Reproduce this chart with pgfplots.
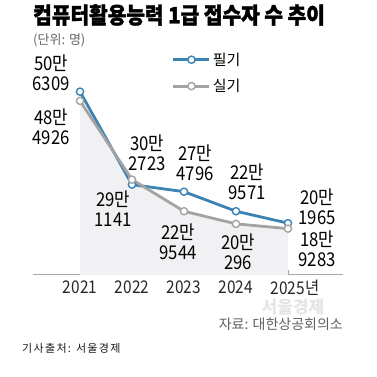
\documentclass[border=0pt]{standalone}
\usepackage{fontspec}
\usepackage{pgfplots}
\pgfplotsset{compat=1.18}
\setmainfont{Noto Sans CJK KR}
\newfontfamily\kr{Noto Sans CJK KR}
\newfontfamily\krn[FakeStretch=0.88]{Noto Sans CJK KR}
\newfontfamily\krt[FakeStretch=0.9, FakeBold=1.6]{Noto Sans CJK KR}
\definecolor{pblue}{HTML}{3B82B5}
\definecolor{pgray}{HTML}{A3A3A3}
\definecolor{pfill}{HTML}{F1F1F3}
\definecolor{axgray}{HTML}{A8A8A8}
\newcommand\labfont{\krn\fontsize{19}{21}\selectfont}
\newcommand\lab[4]{%
  \node[font=\labfont, inner sep=0pt] at (#1,{377-#2}) {#3};
  \node[font=\labfont, inner sep=0pt] at (#1,{377-#2-21}) {#4};}
\begin{document}
\begin{tikzpicture}[x=1pt,y=1pt]
\path[use as bounding box, fill=white] (0,0) rectangle (377,377);
\begin{axis}[
  at={(33pt,102pt)}, anchor=south west,
  scale only axis, width=310pt, height=235pt,
  xmin=2020.096, xmax=2026.058, ymin=82000, ymax=625800,
  axis x line=bottom, axis y line=none,
  x axis line style={draw=axgray, line width=1pt, -},
  xtick={2021,2022,2023,2024,2025},
  xticklabels={2021,2022,2023,2024,2025\rlap{년}},
  tick align=inside, major tick length=5pt,
  tick style={draw=axgray, line width=0.8pt},
  xticklabel style={font=\krn\fontsize{17.5}{18}\selectfont, text=black!85, yshift=-2pt},
  ytick=\empty,
  legend style={at={(0.448,0.955)}, anchor=north west, draw=none, fill=none,
    font=\kr\fontsize{15}{16}\selectfont, row sep=8.5pt, inner sep=0pt,
    cells={anchor=west}},
  legend image code/.code={
    \draw[#1, mark=none] (0pt,0pt) -- (36pt,0pt);
    \draw[#1, only marks] plot coordinates {(18pt,0pt)};
  },
]
\addplot[fill=pfill, draw=none, forget plot] coordinates {
  (2021,82000) (2021,484926) (2022,302723) (2023,229544) (2024,200296) (2025,189283) (2025,82000)} -- cycle;
\addplot[color=pblue, line width=2.8pt, mark=*, mark size=3.6pt,
  mark options={fill=white, draw=pblue, line width=1.4pt}]
  coordinates {(2021,506309) (2022,291141) (2023,274796) (2024,229571) (2025,201965)};
\addlegendentry{필기}
\addplot[color=pgray, line width=2.8pt, mark=*, mark size=3.6pt,
  mark options={fill=white, draw=pgray, line width=1.4pt}]
  coordinates {(2021,484926) (2022,302723) (2023,229544) (2024,200296) (2025,189283)};
\addlegendentry{실기}
\end{axis}
\node[anchor=west, font=\krt\bfseries\fontsize{22.5}{24}\selectfont, inner sep=0pt] at (33,362) {컴퓨터활용능력 1급 접수자 수 추이};
\node[anchor=west, font=\kr\fontsize{13}{14}\selectfont, text=black!60, inner sep=0pt] at (33,337) {(단위: 명)};
\node[font=\kr\bfseries\fontsize{17}{18}\selectfont, text=black!10, inner sep=0pt] at (293,70) {서울경제};
\node[anchor=east, font=\kr\fontsize{14}{15}\selectfont, text=black!62, inner sep=0pt] at (343,53) {자료: 대한상공회의소};
\node[anchor=west, font=\kr\fontsize{11}{12}\selectfont\addfontfeatures{LetterSpace=12}, text=black!90, inner sep=0pt] at (22,29) {기사출처: 서울경제};
\lab{51}{63}{50만}{6309}
\lab{51}{117}{48만}{4926}
\lab{147}{143}{30만}{2723}
\lab{113}{199}{29만}{1141}
\lab{195}{153}{27만}{4796}
\lab{178}{232}{22만}{9544}
\lab{247}{172}{22만}{9571}
\lab{238}{242}{20만}{296}
\lab{317}{197}{20만}{1965}
\lab{317}{239}{18만}{9283}
\end{tikzpicture}
\end{document}
